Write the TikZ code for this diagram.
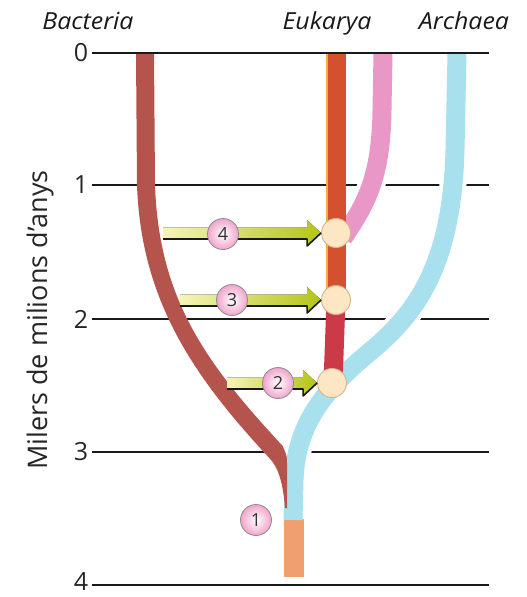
\documentclass[tikz,border=0pt]{standalone}
\usepackage{fontspec}
\setmainfont{Open Sans}
\newfontfamily\widefont[FakeStretch=1.06]{Open Sans}
\usetikzlibrary{calc}

\definecolor{bactcol}{HTML}{B5544C}
\definecolor{eukcol}{HTML}{D4502E}
\definecolor{eukedge}{HTML}{F0B040}
\definecolor{eukdark}{HTML}{CC3A48}
\definecolor{pinkcol}{HTML}{E997C6}
\definecolor{cyancol}{HTML}{A8E0EE}
\definecolor{rootcol}{HTML}{F0A070}
\definecolor{mergefill}{HTML}{FCE6C4}
\definecolor{mergeline}{HTML}{D6B48E}
\definecolor{numpink}{HTML}{F0A4CC}
\definecolor{arrowpale}{HTML}{F6F4B8}
\definecolor{arrowgreen}{HTML}{B4C416}

\tikzset{
  timeline/.style={draw=black!90, line width=2.2pt},
  ticklabel/.style={font=\fontsize{25}{25}\selectfont, text=black!85, inner sep=0pt},
  domainlabel/.style={font=\widefont\fontsize{23.5}{24}\selectfont\itshape, text=black!90, inner sep=0pt, anchor=base},
  branch/.style={line width=19pt, line cap=butt},
  branchgap/.style={draw=white, line width=27pt, line cap=butt},
  mergept/.style={circle, minimum size=29pt, inner sep=0pt, fill=mergefill, draw=mergeline, line width=0.9pt},
  eventnum/.style={circle, minimum size=31pt, inner sep=0pt, draw=black!45, line width=0.8pt,
    inner color=white, outer color=numpink, text=black!80, font=\fontsize{18}{18}\selectfont},
  arrowbody/.style={left color=arrowpale, right color=arrowgreen},
  arrowrim/.style={draw=black!90, line width=1.6pt, line join=round},
}

% horizontal transfer arrow from a start coordinate to a merge point
\newcommand{\transfer}[2]{%
  \fill[arrowbody] ($(#1)+(0,-5.5)$) -- ($(#2.west)+(-14,-5.5)$) -- ($(#2.west)+(-14,-13)$)
    -- (#2.west) -- ($(#2.west)+(-14,13)$) -- ($(#2.west)+(-14,5.5)$) -- ($(#1)+(0,5.5)$) -- cycle;
  \draw[arrowrim] ($(#1)+(0,6)$) -- ($(#2.west)+(-14,6)$) -- ($(#2.west)+(-14,13)$) -- (#2.west);
}

% centre lines of the Archaea and plastid lineages
\newcommand{\archaeapath}{(457,53) -- (455,150) .. controls (452,260) and (420,310) .. (372,350)
  .. controls (330,385) and (296,420) .. (294,480) -- (293,520)}
\newcommand{\plastidpath}{(383,53) -- (382,110) .. controls (381,180) and (365,205) .. (343,238)}

\begin{document}
\begin{tikzpicture}[x=1pt, y=-1pt]
\useasboundingbox (0,0) rectangle (527,597);

% domain names
\node[domainlabel] (lbact) at (88,29) {Bacteria};
\node[domainlabel] (leuk) at (327,29) {Eukarya};
\node[domainlabel] (larch) at (464,29) {Archaea};

% time axis
\node[rotate=90, font=\fontsize{27}{27}\selectfont, text=black!85, inner sep=0pt] (axis) at (40,320) {Milers de milions d’anys};
\foreach \t/\y in {0/53,1/185,2/319,3/452,4/582}{
  \node[ticklabel] (t\t) at (81,\y) {\t};
}
\foreach \y in {185,319,452,585}{
  \draw[timeline] (92,\y) -- (489,\y);
}

% white gaps around the Archaea and plastid lineages
\draw[branchgap] \plastidpath;
\draw[branchgap] \archaeapath;

% root
\fill[rootcol] (284,519) rectangle (304,577);

% Archaea lineage
\draw[branch, draw=cyancol] \archaeapath;

% Bacteria lineage, tapering into the root
\fill[bactcol] (136,53) -- (137,185) .. controls (141,300) and (193,376) .. (269.4,458.1)
  .. controls (278,467) and (283,482) .. (285,508)
  -- (287,508) -- (287,464) .. controls (287,456) .. (282.6,445.9)
  .. controls (206.6,363.9) and (159,300) .. (155,185) -- (154,53) -- cycle;

% plastid lineage joining the eukaryote trunk
\draw[branch, draw=pinkcol] \plastidpath;

% eukaryote trunk
\draw[branch, draw=eukdark] (333,383) -- (336,300);
\draw[branch, draw=eukcol] (336,300) -- (336,53);
\draw[eukedge, line width=1.6pt] (327,300) -- (327,53);

% present-day line
\draw[timeline] (92,53) -- (489,53);

% merge points
\node[mergept] (e4) at (336,233) {};
\node[mergept] (e3) at (336,300) {};
\node[mergept] (e2) at (332,383) {};

% transfer arrows
\coordinate (s4) at (163,233);
\coordinate (s3) at (180,300);
\coordinate (s2) at (227,383);
\transfer{s4}{e4}
\transfer{s3}{e3}
\transfer{s2}{e2}

% event numbers
\node[eventnum] (n4) at (223,234) {4};
\node[eventnum] (n3) at (232,300) {3};
\node[eventnum] (n2) at (278,383) {2};
\node[eventnum] (n1) at (256,520) {1};

\end{tikzpicture}
\end{document}
